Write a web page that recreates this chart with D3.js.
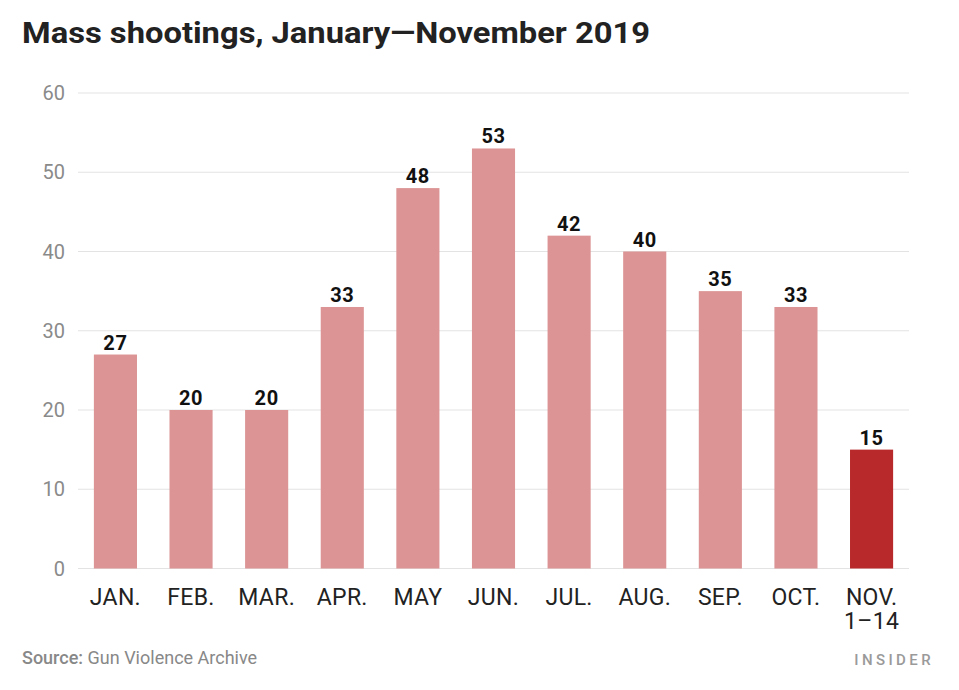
<!DOCTYPE html>
<html>
<head>
<meta charset="utf-8">
<script src="https://cdn.jsdelivr.net/npm/d3@7"></script>
<style>
  html, body { margin: 0; padding: 0; background: #fff; }
  svg { display: block; font-family: Roboto, "Open Sans", sans-serif; }
</style>
</head>
<body>
<svg id="chart" width="959" height="690"></svg>
<script>
const months = ["JAN.", "FEB.", "MAR.", "APR.", "MAY", "JUN.", "JUL.", "AUG.", "SEP.", "OCT.", "NOV."];
const monthSub = ["", "", "", "", "", "", "", "", "", "", "1\u201314"];
const shootings = [27, 20, 20, 33, 48, 53, 42, 40, 35, 33, 15];
const highlight = [false, false, false, false, false, false, false, false, false, false, true];
const yTicks = [0, 10, 20, 30, 40, 50, 60];

const title = "Mass shootings, January\u2014November 2019";
const sourceLabel = "Source:";
const sourceText = " Gun Violence Archive";
const brand = "INSIDER";

const svg = d3.select("#chart");
const plotLeft = 78, plotRight = 909, plotTop = 93, plotBottom = 568.5;

const x = d3.scaleBand().domain(months).range([plotLeft, plotRight]).paddingInner(0.43).paddingOuter(0.21);
const y = d3.scaleLinear().domain([0, 60]).range([plotBottom, plotTop]);

// title
svg.append("text").attr("x", 22).attr("y", 43)
  .attr("font-size", 30).attr("font-weight", 700).attr("fill", "#222")
  .attr("textLength", 628).attr("lengthAdjust", "spacingAndGlyphs")
  .text(title);

// gridlines
svg.append("g").selectAll("line").data(yTicks).join("line")
  .attr("x1", plotLeft).attr("x2", plotRight)
  .attr("y1", d => y(d)).attr("y2", d => y(d))
  .attr("stroke", "#e3e3e3").attr("stroke-width", 1.2);

// y labels
svg.append("g").selectAll("text").data(yTicks).join("text")
  .attr("x", 65).attr("y", d => y(d)).attr("dy", "0.35em")
  .attr("text-anchor", "end").attr("font-size", 20).attr("fill", "#8a8a8a")
  .text(d => d);

// bars
svg.append("g").selectAll("rect").data(shootings).join("rect")
  .attr("x", (d, i) => x(months[i]))
  .attr("width", x.bandwidth())
  .attr("y", d => y(d))
  .attr("height", d => y(0) - y(d))
  .attr("fill", (d, i) => highlight[i] ? "#b8292b" : "#dc9494");

// value labels
svg.append("g").selectAll("text").data(shootings).join("text")
  .attr("x", (d, i) => x(months[i]) + x.bandwidth() / 2)
  .attr("y", d => y(d) - 5)
  .attr("text-anchor", "middle").attr("font-size", 20).attr("font-weight", 700).attr("fill", "#111")
  .attr("letter-spacing", 0.6)
  .text(d => d);

// x labels
const xl = svg.append("g").selectAll("text").data(months).join("text")
  .attr("x", d => x(d) + x.bandwidth() / 2)
  .attr("y", 605)
  .attr("text-anchor", "middle").attr("font-size", 23).attr("fill", "#222")
  .attr("letter-spacing", 0.3);
xl.append("tspan").text(d => d);
xl.append("tspan")
  .attr("x", d => x(d) + x.bandwidth() / 2)
  .attr("dy", 24)
  .text((d, i) => monthSub[i]);

// source
const src = svg.append("text").attr("x", 22).attr("y", 664).attr("font-size", 18).attr("fill", "#888");
src.append("tspan").attr("font-weight", 500).text(sourceLabel);
src.append("tspan").text(sourceText);

// brand
svg.append("text").attr("x", 934).attr("y", 665).attr("text-anchor", "end")
  .attr("font-size", 15).attr("letter-spacing", 3.4).attr("fill", "#9a9a9a").attr("font-weight", 500)
  .text(brand);
</script>
</body>
</html>
